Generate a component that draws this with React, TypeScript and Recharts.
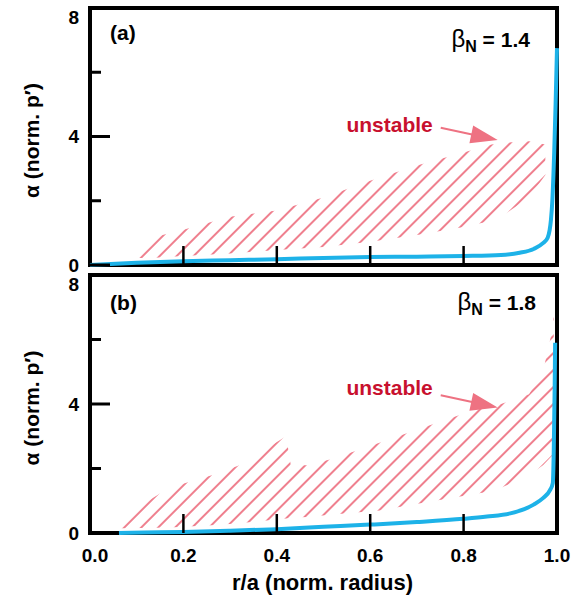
import React from "react";
import {
  ComposedChart,
  Line,
  Area,
  XAxis,
  YAxis,
  ReferenceArea,
  ReferenceLine,
  ReferenceDot,
  Label,
} from "recharts";

const FONT = "'Liberation Sans', Arial, Helvetica, sans-serif";
const BLUE = "#1db2e8";
const PINK = "#ee7282";
const CRIMSON = "#c8102e";

const xTicks = [0, 0.2, 0.4, 0.6, 0.8, 1.0];
const yTicks = [0, 2, 4, 6, 8];
const yLabelled = [0, 4, 8];

// (a) beta_N = 1.4 : marginal alpha profile
const radiusA = [0, 0.1, 0.2, 0.3, 0.4, 0.5, 0.6, 0.7, 0.8, 0.88, 0.92, 0.95, 0.97, 0.98, 0.987, 0.99, 0.994, 0.997, 1.0];
const alphaA = [0, 0.07, 0.12, 0.15, 0.18, 0.22, 0.25, 0.26, 0.28, 0.31, 0.38, 0.5, 0.68, 0.85, 1.4, 2.0, 3.5, 5.0, 6.75];

// (a) unstable (hatched) band
const hatchRadiusA = [0.085, 0.13, 0.2, 0.3, 0.4, 0.5, 0.6, 0.7, 0.8, 0.86, 0.88, 0.94, 0.975];
const hatchLowA = [0.22, 0.22, 0.28, 0.36, 0.47, 0.56, 0.72, 0.93, 1.18, 1.38, 1.5, 2.1, 2.8];
const hatchHighA = [0.25, 0.84, 1.1, 1.5, 1.7, 2.1, 2.62, 3.1, 3.5, 3.75, 3.8, 3.85, 3.75];

// (b) beta_N = 1.8
const radiusB = [0.062, 0.15, 0.2, 0.3, 0.4, 0.5, 0.6, 0.7, 0.8, 0.85, 0.9, 0.93, 0.95, 0.97, 0.985, 0.991, 0.993, 0.995, 0.996];
const alphaB = [0, 0.02, 0.03, 0.07, 0.12, 0.19, 0.26, 0.34, 0.44, 0.51, 0.61, 0.74, 0.88, 1.08, 1.33, 1.55, 2.5, 4.5, 5.9];

const hatchRadiusB = [0.065, 0.08, 0.17, 0.27, 0.32, 0.42, 0.43, 0.465, 0.52, 0.62, 0.72, 0.84, 0.88, 0.94, 0.97, 0.99, 0.993];
const hatchLowB = [0.15, 0.15, 0.17, 0.25, 0.3, 0.45, 0.47, 0.5, 0.57, 0.7, 0.95, 1.25, 1.4, 1.8, 2.1, 2.4, 2.5];
const hatchHighB = [0.5, 0.6, 1.4, 1.83, 2.1, 3.0, 2.1, 2.1, 2.3, 2.8, 3.3, 3.9, 4.0, 4.3, 5.0, 6.3, 6.8];

// annotation anchors (data coordinates)
const arrowFrom = { x: 0.751, y: 4.27 };
const arrowTo = { x: 0.873, y: 3.89 };

const toRows = (r: number[], a: number[]) => r.map((v, i) => ({ r: v, alpha: a[i] }));
const toBand = (r: number[], lo: number[], hi: number[]) =>
  r.map((v, i) => ({ r: v, band: [lo[i], hi[i]] }));

function YTick(props: any) {
  const { x, y, payload } = props;
  const v = payload.value;
  const major = yLabelled.includes(v);
  return (
    <g>
      <line x1={x} x2={x + (major ? 20 : 11)} y1={y} y2={y} stroke="#000" strokeWidth={3} />
      {major && (
        <text
          x={x - 11}
          y={y + (v === 8 ? 9 : 0)}
          dy="0.36em"
          textAnchor="end"
          fontFamily={FONT}
          fontWeight="bold"
          fontSize={19}
          fill="#000"
        >
          {v}
        </text>
      )}
    </g>
  );
}

const makeXTick = (showLabel: boolean) => (props: any) => {
  const { x, y, payload } = props;
  const v = payload.value;
  const inner = v > 0.01 && v < 0.99;
  return (
    <g>
      {inner && <line x1={x} x2={x} y1={y} y2={y - 19} stroke="#000" strokeWidth={2.5} />}
      {showLabel && (
        <text
          x={x + (v === 0 ? 5 : 0)}
          y={y + 29}
          textAnchor="middle"
          fontFamily={FONT}
          fontWeight="bold"
          fontSize={19}
          fill="#000"
        >
          {v.toFixed(1)}
        </text>
      )}
    </g>
  );
};

function Arrow(props: any) {
  const { x1, y1, x2, y2 } = props;
  const dx = x2 - x1;
  const dy = y2 - y1;
  const len = Math.hypot(dx, dy) || 1;
  const ux = dx / len;
  const uy = dy / len;
  const headLen = 27;
  const headW = 9;
  const bx = x2 - ux * headLen;
  const by = y2 - uy * headLen;
  const px = -uy;
  const py = ux;
  return (
    <g>
      <line x1={x1} y1={y1} x2={bx + ux * 2} y2={by + uy * 2} stroke={PINK} strokeWidth={2} />
      <polygon
        points={`${x2},${y2} ${bx + px * headW},${by + py * headW} ${bx - px * headW},${by - py * headW}`}
        fill={PINK}
      />
    </g>
  );
}

const yTitle = (props: any) => {
  const vb = props.viewBox || {};
  const cx = vb.x + 32;
  const cy = vb.y + vb.height / 2 + 4;
  return (
    <text
      x={cx}
      y={cy}
      transform={`rotate(-90, ${cx}, ${cy})`}
      textAnchor="middle"
      dy="0.35em"
      fontFamily={FONT}
      fontWeight="bold"
      fontSize={21}
      fill="#000"
    >
      α (norm. p′)
    </text>
  );
};

const xTitle = (props: any) => {
  const vb = props.viewBox || {};
  return (
    <text
      x={vb.x + vb.width / 2 - 1}
      y={vb.y + 57}
      textAnchor="middle"
      fontFamily={FONT}
      fontWeight="bold"
      fontSize={22}
      fill="#000"
    >
      r/a (norm. radius)
    </text>
  );
};

interface PanelProps {
  id: string;
  tag: string;
  beta: string;
  curve: { r: number; alpha: number }[];
  band: { r: number; band: number[] }[];
  bottom: boolean;
  betaX: number;
}

function Panel({ id, tag, beta, curve, band, bottom, betaX }: PanelProps) {
  // top chart is a bit taller than its slot so the "0" label is not cut;
  // the bottom chart is pulled up over the spare strip
  const height = bottom ? 333 : 280;
  const top = bottom ? 5 : 8;
  return (
    <ComposedChart
      width={581}
      height={height}
      margin={{ top, right: 24, bottom: bottom ? 0 : 10, left: 0 }}
      style={{ display: "block", marginTop: bottom ? -10 : 0 }}
    >
      <defs>
        <pattern
          id={`hatch-${id}`}
          patternUnits="userSpaceOnUse"
          width={12}
          height={12}
          patternTransform="rotate(45)"
        >
          <line x1={6} y1={0} x2={6} y2={12} stroke={PINK} strokeWidth={1.8} />
        </pattern>
      </defs>
      <XAxis
        dataKey="r"
        type="number"
        domain={[0, 1]}
        ticks={xTicks}
        interval={0}
        height={bottom ? 70 : 5}
        axisLine={false}
        tickLine={false}
        tickSize={0}
        tickMargin={0}
        tick={makeXTick(bottom)}
      >
        {bottom && <Label content={xTitle} />}
      </XAxis>
      <YAxis
        type="number"
        domain={[0, 8]}
        ticks={yTicks}
        interval={0}
        width={90}
        axisLine={false}
        tickLine={false}
        tickSize={0}
        tickMargin={0}
        tick={YTick}
      >
        <Label content={yTitle} />
      </YAxis>
      <Area
        data={band}
        dataKey="band"
        type="linear"
        stroke="none"
        fill={`url(#hatch-${id})`}
        fillOpacity={1}
        isAnimationActive={false}
        activeDot={false}
      />
      <ReferenceArea x1={0} x2={1} y1={0} y2={8} fill="none" stroke="#000" strokeWidth={4} />
      <Line
        data={curve}
        dataKey="alpha"
        type="monotone"
        stroke={BLUE}
        strokeWidth={4}
        dot={false}
        activeDot={false}
        isAnimationActive={false}
      />
      <ReferenceLine segment={[arrowFrom, arrowTo]} shape={Arrow} />
      <ReferenceDot
        x={0.734}
        y={bottom ? 4.28 : 4.14}
        r={0}
        shape={(p: any) => (
          <text x={p.cx} y={p.cy} textAnchor="end" fontFamily={FONT} fontWeight="bold" fontSize={21} fill={CRIMSON}>
            unstable
          </text>
        )}
      />
      <ReferenceDot
        x={0.043}
        y={bottom ? 6.9 : 7.0}
        r={0}
        shape={(p: any) => (
          <text x={p.cx} y={p.cy} textAnchor="start" fontFamily={FONT} fontWeight="bold" fontSize={21} fill="#000">
            {tag}
          </text>
        )}
      />
      <ReferenceDot
        x={betaX}
        y={bottom ? 6.9 : 6.8}
        r={0}
        shape={(p: any) => (
          <text x={p.cx} y={p.cy} textAnchor="end" fontFamily={FONT} fontWeight="bold" fontSize={21} fill="#000">
            <tspan fontWeight="normal" fontSize={24}>β</tspan>
            <tspan dy={5} fontSize={16}>N</tspan>
            <tspan dy={-5}>{` = ${beta}`}</tspan>
          </text>
        )}
      />
    </ComposedChart>
  );
}

export default function App() {
  return (
    <div style={{ position: "absolute", left: 0, top: 0, width: 581, height: 603, background: "#fff" }}>
      <Panel
        id="a"
        tag="(a)"
        beta="1.4"
        curve={toRows(radiusA, alphaA)}
        band={toBand(hatchRadiusA, hatchLowA, hatchHighA)}
        bottom={false}
        betaX={0.942}
      />
      <Panel
        id="b"
        tag="(b)"
        beta="1.8"
        curve={toRows(radiusB, alphaB)}
        band={toBand(hatchRadiusB, hatchLowB, hatchHighB)}
        bottom={true}
        betaX={0.955}
      />
    </div>
  );
}
